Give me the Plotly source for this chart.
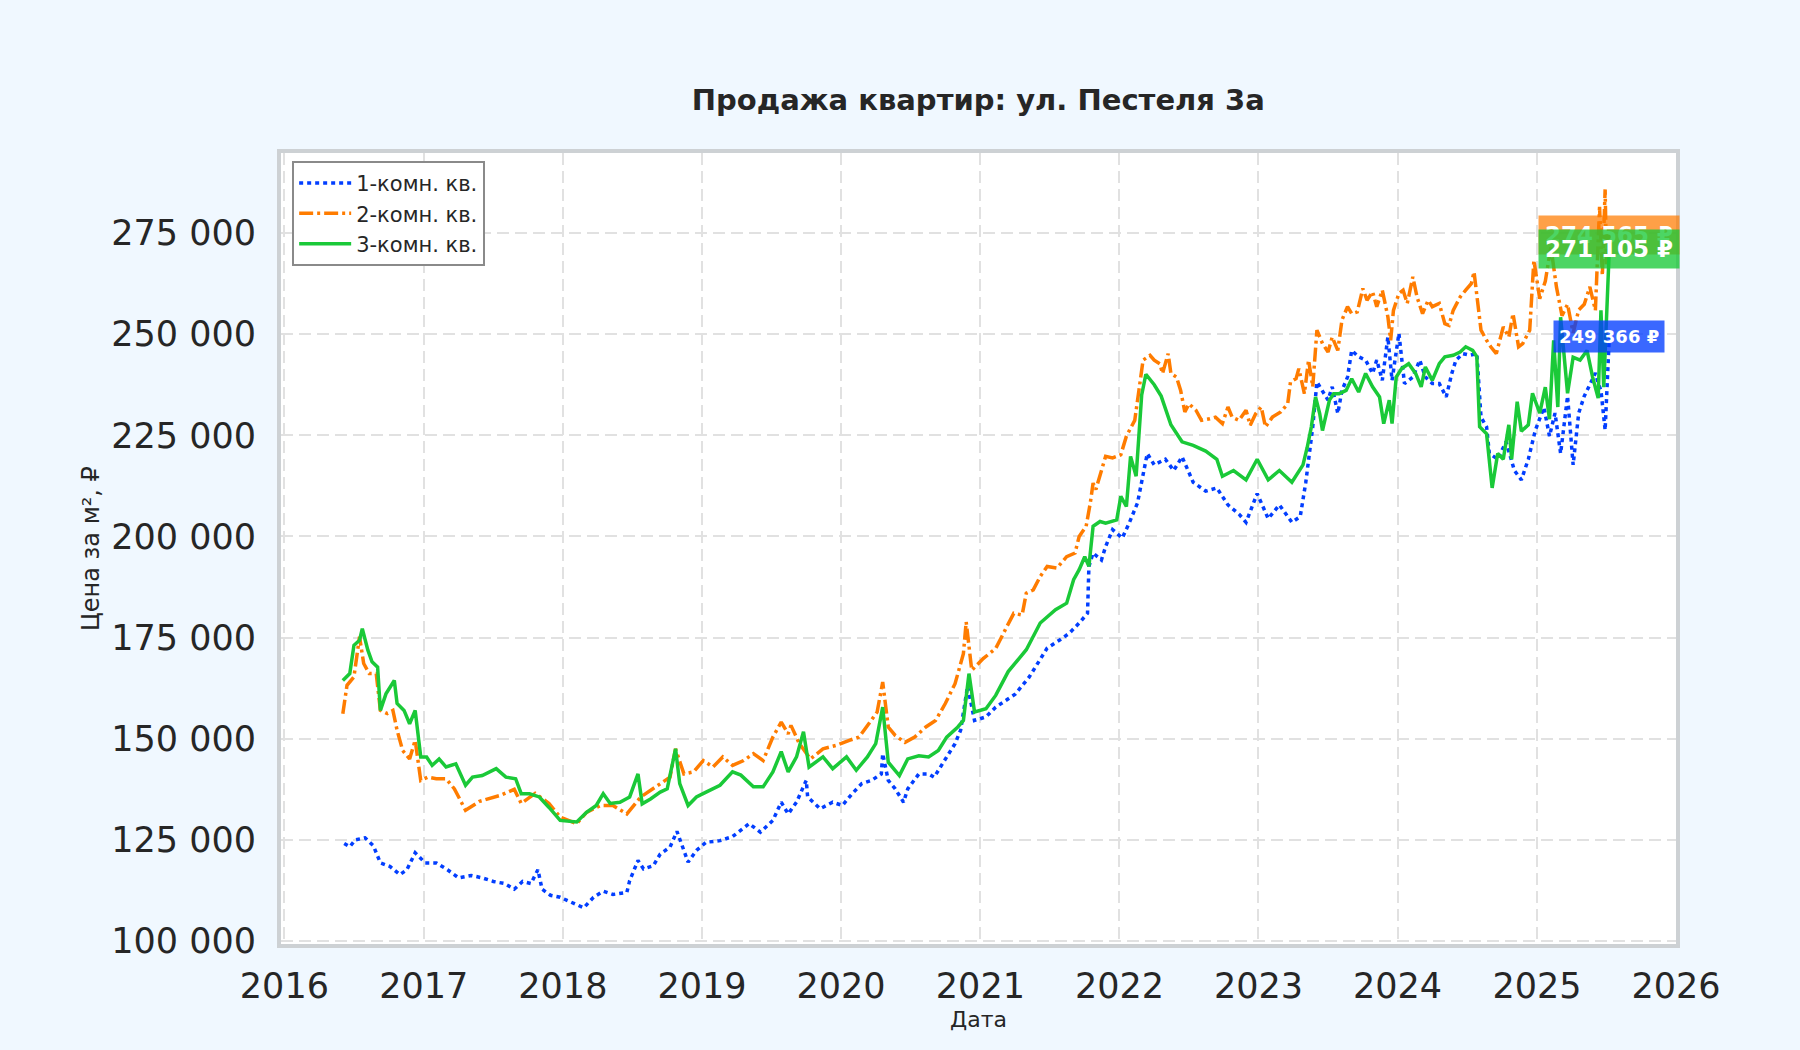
import pandas as pd
import plotly.graph_objects as go

TITLE = 'Продажа квартир: ул. Пестеля 3а'
X_TITLE = 'Дата'
Y_TITLE = 'Цена за м², ₽'

ROOM1_NAME = '1-комн. кв.'
ROOM1_T = [
    2016.43, 2016.47, 2016.51, 2016.58, 2016.64, 2016.69, 2016.76, 2016.83, 2016.88, 2016.94,
    2017.01, 2017.09, 2017.17, 2017.25, 2017.34, 2017.42, 2017.50, 2017.58, 2017.65, 2017.71,
    2017.77, 2017.82, 2017.85, 2017.91, 2017.98, 2018.08, 2018.15, 2018.22, 2018.29, 2018.36,
    2018.46, 2018.48, 2018.54, 2018.58, 2018.65, 2018.70, 2018.77, 2018.82, 2018.85, 2018.90,
    2018.96, 2019.03, 2019.13, 2019.22, 2019.34, 2019.42, 2019.51, 2019.57, 2019.62, 2019.68,
    2019.75, 2019.76, 2019.85, 2019.94, 2020.01, 2020.08, 2020.15, 2020.22, 2020.29, 2020.30,
    2020.34, 2020.39, 2020.45, 2020.48, 2020.56, 2020.63, 2020.67, 2020.75, 2020.82, 2020.86,
    2020.91, 2020.96, 2021.04, 2021.11, 2021.25, 2021.35, 2021.48, 2021.57, 2021.64, 2021.71,
    2021.77, 2021.78, 2021.81, 2021.87, 2021.90, 2021.95, 2022.02, 2022.07, 2022.13, 2022.20,
    2022.25, 2022.33, 2022.39, 2022.45, 2022.53, 2022.62, 2022.70, 2022.78, 2022.86, 2022.91,
    2022.99, 2023.07, 2023.15, 2023.24, 2023.30, 2023.34, 2023.39, 2023.42, 2023.46, 2023.50,
    2023.53, 2023.57, 2023.60, 2023.64, 2023.67, 2023.72, 2023.77, 2023.82, 2023.85, 2023.89,
    2023.93, 2023.96, 2024.01, 2024.05, 2024.11, 2024.16, 2024.20, 2024.25, 2024.30, 2024.35,
    2024.39, 2024.42, 2024.47, 2024.52, 2024.57, 2024.60, 2024.64, 2024.66, 2024.72, 2024.78,
    2024.84, 2024.89, 2024.94, 2024.99, 2025.05, 2025.09, 2025.13, 2025.17, 2025.22, 2025.26,
    2025.30, 2025.34, 2025.38, 2025.42, 2025.44, 2025.46, 2025.49, 2025.52,
]
ROOM1_PRICE = [
    124100, 123300, 125000, 125500, 123500, 119300, 118400, 116400, 117600, 121800,
    119300, 119300, 117600, 115600, 116200, 115600, 114700, 114200, 112800, 114700,
    114200, 117600, 112800, 111300, 110800, 109200, 108200, 110800, 112300, 111500,
    112000, 114900, 119900, 117800, 118600, 121500, 123200, 127100, 124000, 119500,
    122400, 124400, 124800, 125800, 129000, 126900, 129800, 134300, 131400, 134300,
    139700, 135600, 132700, 134300, 133500, 136400, 138900, 139700, 141300, 146300,
    139700, 137600, 134300, 137600, 141300, 141300, 140500, 145000, 148800, 152100,
    163000, 154500, 155400, 157800, 161000, 165200, 172400, 174400, 176100, 178600,
    181000, 192600, 195900, 194200, 197500, 201700, 199600, 203300, 208300, 220500,
    217700, 219100, 216300, 219700, 213400, 211200, 212000, 207800, 205500, 203500,
    210600, 204400, 207800, 203500, 204900, 213400, 227100, 238200, 236100, 233700,
    237000, 230400, 236100, 239400, 246000, 244400, 243600, 240300, 243600, 238600,
    249300, 238600, 250200, 237800, 239400, 243600, 239400, 237800, 237800, 234500,
    240300, 243600, 245200, 244800, 245200, 229500, 227100, 220500, 219100, 223400,
    216300, 214000, 219100, 226200, 231900, 224800, 230500, 220500, 234700, 217700,
    230500, 234700, 237500, 240400, 237900, 236100, 226300, 249366,
]

ROOM2_NAME = '2-комн. кв.'
ROOM2_T = [
    2016.42, 2016.45, 2016.50, 2016.54, 2016.57, 2016.61, 2016.66, 2016.69, 2016.74, 2016.78,
    2016.81, 2016.85, 2016.90, 2016.94, 2016.98, 2017.03, 2017.09, 2017.16, 2017.22, 2017.26,
    2017.30, 2017.40, 2017.55, 2017.65, 2017.70, 2017.80, 2017.90, 2017.98, 2018.10, 2018.17,
    2018.27, 2018.36, 2018.46, 2018.56, 2018.63, 2018.70, 2018.77, 2018.81, 2018.87, 2018.94,
    2019.01, 2019.08, 2019.15, 2019.22, 2019.30, 2019.37, 2019.44, 2019.51, 2019.57, 2019.62,
    2019.64, 2019.70, 2019.78, 2019.87, 2019.97, 2020.06, 2020.13, 2020.20, 2020.26, 2020.30,
    2020.34, 2020.39, 2020.46, 2020.53, 2020.61, 2020.68, 2020.75, 2020.82, 2020.88, 2020.90,
    2020.94, 2021.02, 2021.11, 2021.19, 2021.24, 2021.30, 2021.33, 2021.38, 2021.43, 2021.48,
    2021.55, 2021.62, 2021.68, 2021.71, 2021.76, 2021.79, 2021.81, 2021.83, 2021.90, 2021.95,
    2022.01, 2022.05, 2022.11, 2022.14, 2022.17, 2022.22, 2022.25, 2022.29, 2022.31, 2022.35,
    2022.37, 2022.41, 2022.44, 2022.47, 2022.50, 2022.55, 2022.59, 2022.65, 2022.69, 2022.74,
    2022.78, 2022.81, 2022.86, 2022.91, 2022.94, 2022.98, 2023.02, 2023.05, 2023.10, 2023.16,
    2023.21, 2023.23, 2023.27, 2023.29, 2023.33, 2023.36, 2023.39, 2023.42, 2023.46, 2023.50,
    2023.53, 2023.57, 2023.60, 2023.64, 2023.67, 2023.71, 2023.75, 2023.78, 2023.82, 2023.85,
    2023.89, 2023.93, 2023.95, 2023.97, 2024.01, 2024.04, 2024.07, 2024.11, 2024.14, 2024.18,
    2024.22, 2024.25, 2024.30, 2024.34, 2024.37, 2024.40, 2024.45, 2024.49, 2024.53, 2024.55,
    2024.57, 2024.60, 2024.64, 2024.67, 2024.71, 2024.76, 2024.80, 2024.83, 2024.87, 2024.90,
    2024.95, 2024.98, 2025.02, 2025.06, 2025.10, 2025.14, 2025.18, 2025.22, 2025.26, 2025.30,
    2025.34, 2025.38, 2025.42, 2025.45, 2025.47, 2025.49, 2025.50, 2025.52,
]
ROOM2_PRICE = [
    156200, 163200, 165300, 175200, 168600, 166100, 166100, 157000, 156200, 157000,
    152100, 147100, 145000, 149600, 139700, 140500, 140100, 140100, 137600, 134700,
    132300, 134500, 136000, 137500, 134000, 136500, 134000, 130600, 129000, 131800,
    133500, 133500, 131400, 135600, 137300, 138900, 140500, 147500, 141300, 141800,
    144600, 143000, 145500, 143400, 144600, 146300, 144600, 150400, 154100, 151200,
    153300, 148800, 145000, 147500, 148400, 149600, 150400, 153700, 156600, 164000,
    152900, 150800, 149100, 150400, 152900, 154500, 158700, 163600, 171000, 178900,
    166900, 169800, 172300, 177700, 181000, 180600, 186000, 186800, 190100, 192600,
    192200, 195000, 195900, 200000, 202500, 208300, 213200, 211600, 219800, 219400,
    220200, 224800, 228700, 236100, 243600, 244800, 243600, 242700, 240300, 245200,
    240300, 239400, 236100, 230800, 232800, 231200, 228700, 229100, 229500, 227900,
    232000, 229500, 228700, 231200, 227500, 230400, 232000, 227100, 229500, 230800,
    232800, 238200, 239000, 241500, 235300, 243600, 237000, 251000, 247700, 245600,
    249300, 246000, 253500, 256800, 255100, 255500, 261300, 258400, 260500, 256800,
    260900, 254300, 248500, 255900, 260100, 260900, 257600, 264200, 259200, 255100,
    258400, 256800, 257600, 252600, 252200, 255900, 259200, 260900, 262500, 265400,
    260100, 251000, 248500, 246900, 245200, 251800, 249300, 255100, 246900, 247700,
    251000, 268300, 258800, 263100, 271600, 261700, 254600, 257400, 250300, 256000,
    257400, 261700, 255900, 281500, 264500, 285800, 267300, 274565,
]

ROOM3_NAME = '3-комн. кв.'
ROOM3_T = [
    2016.42, 2016.47, 2016.50, 2016.54, 2016.56, 2016.60, 2016.63, 2016.67, 2016.69, 2016.73,
    2016.79, 2016.81, 2016.86, 2016.90, 2016.94, 2016.98, 2017.02, 2017.06, 2017.11, 2017.16,
    2017.23, 2017.30, 2017.35, 2017.42, 2017.52, 2017.59, 2017.66, 2017.70, 2017.76, 2017.83,
    2017.90, 2017.95, 2017.98, 2018.10, 2018.17, 2018.24, 2018.29, 2018.34, 2018.41, 2018.48,
    2018.54, 2018.57, 2018.63, 2018.70, 2018.75, 2018.81, 2018.84, 2018.90, 2018.96, 2019.03,
    2019.13, 2019.22, 2019.28, 2019.37, 2019.44, 2019.51, 2019.57, 2019.62, 2019.68, 2019.73,
    2019.77, 2019.87, 2019.94, 2020.04, 2020.11, 2020.19, 2020.25, 2020.30, 2020.34, 2020.42,
    2020.48, 2020.56, 2020.63, 2020.70, 2020.76, 2020.84, 2020.88, 2020.92, 2020.96, 2021.04,
    2021.11, 2021.20, 2021.30, 2021.33, 2021.43, 2021.48, 2021.54, 2021.62, 2021.67, 2021.71,
    2021.75, 2021.78, 2021.81, 2021.86, 2021.90, 2021.98, 2022.01, 2022.05, 2022.08, 2022.12,
    2022.16, 2022.19, 2022.25, 2022.30, 2022.37, 2022.45, 2022.53, 2022.62, 2022.70, 2022.74,
    2022.82, 2022.91, 2022.99, 2023.07, 2023.15, 2023.24, 2023.32, 2023.35, 2023.38, 2023.41,
    2023.44, 2023.46, 2023.51, 2023.54, 2023.58, 2023.63, 2023.67, 2023.72, 2023.77, 2023.82,
    2023.87, 2023.90, 2023.94, 2023.96, 2023.99, 2024.03, 2024.08, 2024.13, 2024.17, 2024.20,
    2024.25, 2024.30, 2024.34, 2024.40, 2024.45, 2024.49, 2024.54, 2024.57, 2024.59, 2024.64,
    2024.68, 2024.72, 2024.76, 2024.80, 2024.82, 2024.86, 2024.89, 2024.94, 2024.97, 2025.02,
    2025.06, 2025.09, 2025.12, 2025.15, 2025.17, 2025.22, 2025.26, 2025.31, 2025.36, 2025.40,
    2025.44, 2025.46, 2025.48, 2025.52,
]
ROOM3_PRICE = [
    164400, 166100, 173100, 174300, 177200, 171900, 169000, 167700, 157000, 161100,
    164400, 158700, 157000, 153700, 157000, 145500, 145500, 143400, 145000, 143000,
    143800, 138500, 140500, 140900, 142600, 140500, 140100, 136400, 136400, 135600,
    133000, 131000, 129800, 129400, 131800, 133500, 136400, 134000, 134300, 135600,
    141300, 133900, 135100, 136800, 137600, 147500, 138900, 133500, 135600, 136800,
    138500, 141800, 141000, 138100, 138100, 141800, 146800, 141800, 145500, 151700,
    143000, 145500, 142600, 145500, 142200, 145500, 148800, 157800, 144200, 140900,
    145000, 145800, 145500, 147100, 150400, 152900, 154500, 166100, 156600, 157400,
    160700, 166600, 170900, 172000, 178600, 180200, 181900, 183500, 189300, 191800,
    195000, 192600, 202500, 203700, 203300, 204100, 209900, 207400, 219800, 214900,
    235000, 240100, 237500, 234700, 227600, 223400, 222500, 221100, 219100, 214900,
    216300, 214000, 219100, 214000, 216300, 213400, 217700, 222000, 227100, 234500,
    230400, 226200, 233700, 235300, 235300, 236100, 239000, 235700, 240300, 237000,
    234500, 227900, 233700, 227900, 239400, 241500, 242700, 240300, 237000, 241900,
    238600, 242700, 244400, 244800, 245600, 246900, 246000, 244400, 227100, 225400,
    212000, 220500, 219100, 227600, 219100, 233300, 226000, 227600, 235400, 230500,
    236900, 229000, 248500, 232000, 254200, 235400, 244300, 243600, 246000, 239400,
    234200, 255900, 236900, 271105,
]

Y_TICKS = [100000, 125000, 150000, 175000, 200000, 225000, 250000, 275000]
X_TICKS = ['2016', '2017', '2018', '2019', '2020', '2021', '2022', '2023', '2024', '2025', '2026']

COLORS = ['#023eff', '#ff7c00', '#1ac938']
LABEL_BG = ['rgba(2,62,255,0.78)', 'rgba(255,124,0,0.72)', 'rgba(26,201,56,0.78)']
TEXT_COLOR = '#262626'
FONT = 'DejaVu Sans'
PAGE_BG = '#f0f8ff'


def year_to_date(t: float) -> pd.Timestamp:
    year = int(t)
    return pd.Timestamp(year=year, month=1, day=1) + pd.Timedelta(days=(t - year) * 365.25)


def price_label(value: float) -> str:
    return f'{value:,.0f} ₽'.replace(',', ' ')


def build_figure() -> go.Figure:
    fig = go.Figure()
    series = [
        (ROOM1_NAME, ROOM1_T, ROOM1_PRICE, '4px,4px'),
        (ROOM2_NAME, ROOM2_T, ROOM2_PRICE, '14px,4px,3px,4px'),
        (ROOM3_NAME, ROOM3_T, ROOM3_PRICE, 'solid'),
    ]
    for (name, t, price, dash), color in zip(series, COLORS):
        fig.add_trace(go.Scatter(x=[year_to_date(v) for v in t],
                                 y=price,
                                 name=name,
                                 mode='lines',
                                 line=dict(color=color, width=3.5, dash=dash)))

    # end-of-series price badges: orange first, green drawn over it
    badges = [(1, 23), (2, 23), (0, 18)]
    for idx, size in badges:
        _, t, price, _ = series[idx]
        fig.add_annotation(x=year_to_date(t[-1]), y=price[-1],
                           text=f'<b>{price_label(price[-1])}</b>',
                           showarrow=False,
                           bgcolor=LABEL_BG[idx],
                           borderpad=6 if size > 20 else 5,
                           font=dict(family=FONT, size=size, color='white'))

    grid = dict(showgrid=True, gridcolor='#e1e1e1', gridwidth=2, griddash='12px,6px',
                showline=True, linecolor='#cdd1d4', linewidth=4, mirror=True,
                zeroline=False, ticks='',
                tickfont=dict(family=FONT, size=35, color=TEXT_COLOR))

    fig.update_xaxes(type='date',
                     range=[year_to_date(2015.975), year_to_date(2026.0)],
                     tickvals=[pd.Timestamp(f'{y}-01-01') for y in X_TICKS],
                     ticktext=X_TICKS,
                     ticklabelstandoff=8,
                     title=dict(text=X_TITLE, standoff=8,
                                font=dict(family=FONT, size=22, color=TEXT_COLOR)),
                     **grid)
    fig.update_yaxes(range=[99250, 294800],
                     tickvals=Y_TICKS,
                     ticktext=[f'{v:,}'.replace(',', ' ') for v in Y_TICKS],
                     ticklabelstandoff=14,
                     title=dict(text=Y_TITLE, standoff=6,
                                font=dict(family=FONT, size=24, color=TEXT_COLOR)),
                     **grid)

    fig.update_layout(
        width=1800, height=1050,
        paper_bgcolor=PAGE_BG,
        plot_bgcolor='white',
        font=dict(family=FONT, color=TEXT_COLOR),
        margin=dict(l=281, r=124, t=153, b=106, autoexpand=False),
        title=dict(text=TITLE, x=0.5435, xanchor='center', y=0.905, yanchor='middle',
                   font=dict(family=FONT, size=29, color=TEXT_COLOR, weight='bold')),
        legend=dict(x=0.008, y=0.99, xanchor='left', yanchor='top',
                    bgcolor='white', bordercolor='#8a8a8a', borderwidth=2,
                    font=dict(family=FONT, size=21, color=TEXT_COLOR),
                    itemwidth=52, tracegroupgap=2),
        showlegend=True,
    )
    return fig


if __name__ == '__main__':
    fig = build_figure()
    # drop the default page margin so the figure sits flush in the window
    fig.write_html('out.html',
                   config={'displayModeBar': False},
                   post_script=f"document.body.style.margin='0';"
                               f"document.body.style.background='{PAGE_BG}';")
